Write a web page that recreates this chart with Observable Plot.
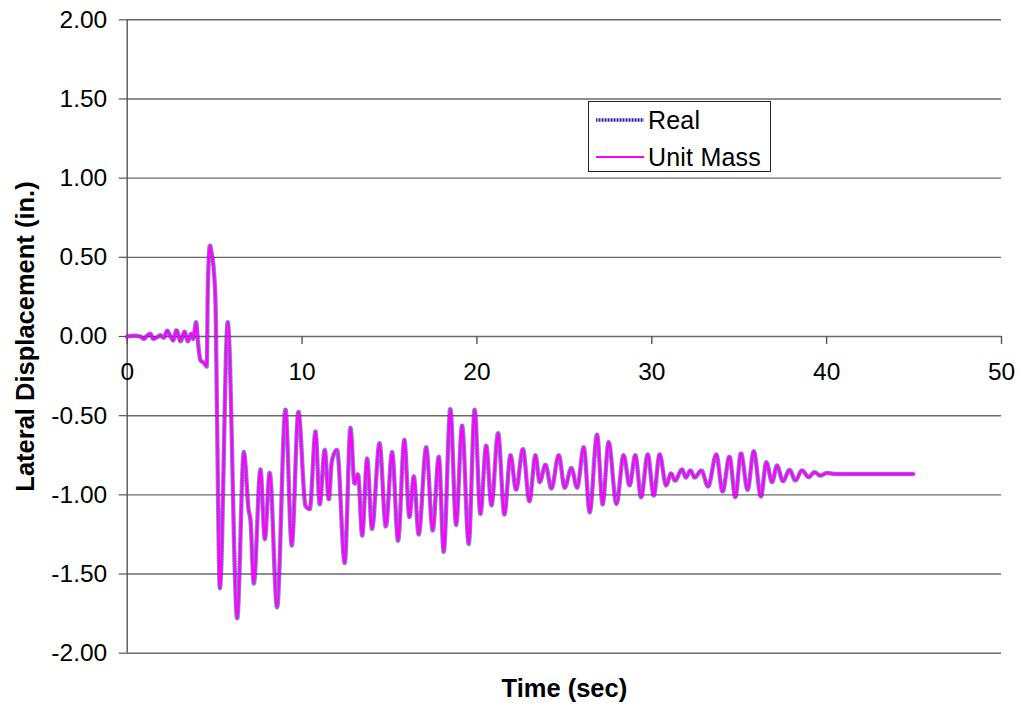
<!DOCTYPE html>
<html>
<head>
<meta charset="utf-8">
<script src="https://cdn.jsdelivr.net/npm/d3@7"></script>
<script src="https://cdn.jsdelivr.net/npm/@observablehq/plot@0.6"></script>
<style>
  html, body { margin: 0; padding: 0; background: #fff; }
  #wrap { position: relative; width: 1019px; height: 712px; font-family: "Liberation Sans", Arial, sans-serif; }
  #legend { position: absolute; left: 588px; top: 101px; width: 181px; height: 69px; border: 1.3px solid #222; background: #fff; }
  .lg-item { position: absolute; left: 0; width: 181px; height: 30px; }
  .lg-item svg { position: absolute; left: 6px; top: 0; }
  .lg-item span { position: absolute; left: 59px; top: 0; font-size: 25px; line-height: 30px; color: #000; letter-spacing: 0.2px; }
</style>
</head>
<body>
<div id="wrap"></div>
<script>
// ---- data ----
const time = [0, 0.4, 0.75, 0.95, 1.14, 1.33, 1.48, 1.71, 1.9, 2.09, 2.29, 2.48, 2.63, 2.82, 3.05, 3.28, 3.47, 3.66, 3.77, 3.94, 4.06, 4.19, 4.42, 4.55, 4.61, 4.73, 4.82, 4.95, 5.05, 5.14, 5.3, 5.75, 6.29, 6.67, 6.95, 7.05, 7.24, 7.62, 7.87, 8.15, 8.57, 9.05, 9.41, 9.79, 10.2, 10.44, 10.77, 11.01, 11.3, 11.53, 11.7, 12.0, 12.44, 12.77, 13.0, 13.2, 13.44, 13.72, 14.0, 14.43, 14.79, 15.15, 15.49, 15.85, 16.14, 16.39, 16.67, 17.1, 17.47, 17.82, 18.1, 18.48, 18.81, 19.15, 19.53, 19.87, 20.2, 20.53, 20.83, 21.21, 21.57, 21.92, 22.24, 22.63, 23.0, 23.35, 23.59, 23.92, 24.26, 24.68, 25.02, 25.4, 25.73, 26.11, 26.45, 26.87, 27.19, 27.53, 27.98, 28.39, 28.73, 29.06, 29.39, 29.77, 30.11, 30.45, 30.82, 31.1, 31.33, 31.73, 31.95, 32.21, 32.45, 32.84, 33.22, 33.69, 34.05, 34.44, 34.78, 35.1, 35.48, 35.83, 36.24, 36.55, 36.88, 37.16, 37.5, 37.88, 38.21, 38.59, 38.97, 39.3, 39.64, 40.02, 40.5, 45.0];

const real = [0, 0.005, 0.0, -0.015, 0.005, 0.017, -0.015, -0.005, 0.008, -0.008, 0.036, 0.0, -0.025, 0.04, -0.03, 0.03, -0.03, 0.017, -0.015, 0.09, -0.05, -0.15, -0.17, -0.19, 0.3, 0.575, 0.53, 0.42, 0.21, -0.53, -1.59, 0.09, -1.78, -0.73, -1.10, -1.16, -1.56, -0.84, -1.28, -0.86, -1.71, -0.46, -1.32, -0.475, -1.07, -1.09, -0.60, -1.06, -0.716, -1.03, -0.79, -0.716, -1.43, -0.577, -0.93, -0.87, -1.257, -0.77, -1.215, -0.674, -1.2, -0.73, -1.29, -0.653, -1.14, -0.884, -1.25, -0.70, -1.225, -0.758, -1.36, -0.457, -1.19, -0.562, -1.31, -0.463, -1.12, -0.688, -1.067, -0.61, -1.124, -0.75, -0.968, -0.71, -1.04, -0.75, -0.92, -0.81, -0.96, -0.75, -0.955, -0.83, -0.955, -0.70, -1.11, -0.62, -1.06, -0.667, -1.057, -0.75, -0.94, -0.75, -1.015, -0.745, -1.004, -0.745, -0.94, -0.865, -0.91, -0.84, -0.89, -0.846, -0.89, -0.846, -0.947, -0.745, -0.98, -0.758, -1.015, -0.737, -0.968, -0.724, -1.01, -0.794, -0.92, -0.815, -0.914, -0.842, -0.909, -0.846, -0.888, -0.857, -0.878, -0.862, -0.868, -0.868];

const unitMass = [0, 0.005, 0.0, -0.015, 0.005, 0.017, -0.015, -0.005, 0.008, -0.008, 0.036, 0.0, -0.025, 0.04, -0.03, 0.03, -0.03, 0.017, -0.015, 0.09, -0.05, -0.15, -0.17, -0.19, 0.3, 0.575, 0.53, 0.42, 0.21, -0.53, -1.59, 0.09, -1.78, -0.73, -1.10, -1.16, -1.56, -0.84, -1.28, -0.86, -1.71, -0.46, -1.32, -0.475, -1.07, -1.09, -0.60, -1.06, -0.716, -1.03, -0.79, -0.716, -1.43, -0.577, -0.93, -0.87, -1.257, -0.77, -1.215, -0.674, -1.2, -0.73, -1.29, -0.653, -1.14, -0.884, -1.25, -0.70, -1.225, -0.758, -1.36, -0.457, -1.19, -0.562, -1.31, -0.463, -1.12, -0.688, -1.067, -0.61, -1.124, -0.75, -0.968, -0.71, -1.04, -0.75, -0.92, -0.81, -0.96, -0.75, -0.955, -0.83, -0.955, -0.70, -1.11, -0.62, -1.06, -0.667, -1.057, -0.75, -0.94, -0.75, -1.015, -0.745, -1.004, -0.745, -0.94, -0.865, -0.91, -0.84, -0.89, -0.846, -0.89, -0.846, -0.947, -0.745, -0.98, -0.758, -1.015, -0.737, -0.968, -0.724, -1.01, -0.794, -0.92, -0.815, -0.914, -0.842, -0.909, -0.846, -0.888, -0.857, -0.878, -0.862, -0.868, -0.868];

const xTicks = [0, 10, 20, 30, 40, 50];
const yTicks = [-2, -1.5, -1, -0.5, 0, 0.5, 1, 1.5, 2];
const seriesNames = ["Real", "Unit Mass"];
const xLabel = "Time (sec)";
const yLabel = "Lateral Displacement (in.)";

// ---- build table ----
const realRows = time.map((t, i) => ({t, v: real[i]}));
const unitRows = time.map((t, i) => ({t, v: unitMass[i]}));

const chart = Plot.plot({
  width: 1019,
  height: 712,
  marginLeft: 126.7,
  marginRight: 18,
  marginTop: 19.3,
  marginBottom: 59.3,
  style: {fontFamily: "'Liberation Sans', Arial, sans-serif", fontSize: "24px", background: "white", color: "black", overflow: "visible"},
  x: {domain: [0, 50], axis: null},
  y: {domain: [-2, 2]},
  marks: [
    Plot.ruleY(yTicks, {stroke: "#6a6a6a", strokeWidth: 1.4}),
    Plot.ruleX([0], {stroke: "#555", strokeWidth: 1.4}),
    Plot.axisY(yTicks, {tickSize: 8, tickPadding: 12, tickFormat: d => d.toFixed(2), label: null, fontSize: 24.5, stroke: "#555", strokeWidth: 1.2}),
    Plot.ruleX(xTicks, {x: d => d, y1: 0, y2: 0, insetBottom: -8, stroke: "#555", strokeWidth: 1.4}),
    Plot.text(xTicks, {x: d => d, y: 0, dy: 36, text: d => String(d), fontSize: 24.5}),
    Plot.line(realRows, {x: "t", y: "v", curve: "monotone-x", stroke: "#1c1c9a", strokeWidth: 4.5, strokeDasharray: "1,1.6", strokeOpacity: 0.55}),
    Plot.line(unitRows, {x: "t", y: "v", curve: "monotone-x", stroke: "#ff00ff", strokeWidth: 2.4}),
    Plot.text([xLabel], {frameAnchor: "bottom", dy: 44, text: d => d, fontWeight: "bold", fontSize: 25.5}),
    Plot.text([yLabel], {frameAnchor: "left", textAnchor: "middle", dx: -101, rotate: -90, text: d => d, fontWeight: "bold", fontSize: 25.5})
  ]
});

const wrap = document.getElementById("wrap");
wrap.appendChild(chart);

// ---- legend (inside the plot area, as in the reference) ----
const legend = document.createElement("div");
legend.id = "legend";
const samples = [
  '<svg width="50" height="30"><line x1="1" y1="15" x2="49" y2="15" stroke="#b0b0ee" stroke-width="4"/><line x1="1" y1="15" x2="49" y2="15" stroke="#1a1a90" stroke-width="3" stroke-dasharray="1.2,1.8"/></svg>',
  '<svg width="50" height="30"><line x1="1" y1="15" x2="49" y2="15" stroke="#ff00ff" stroke-width="2"/></svg>'
];
seriesNames.forEach((name, i) => {
  const item = document.createElement("div");
  item.className = "lg-item";
  item.style.top = (i === 0 ? 3 : 40) + "px";
  item.innerHTML = samples[i] + "<span>" + name + "</span>";
  legend.appendChild(item);
});
wrap.appendChild(legend);
</script>
</body>
</html>
